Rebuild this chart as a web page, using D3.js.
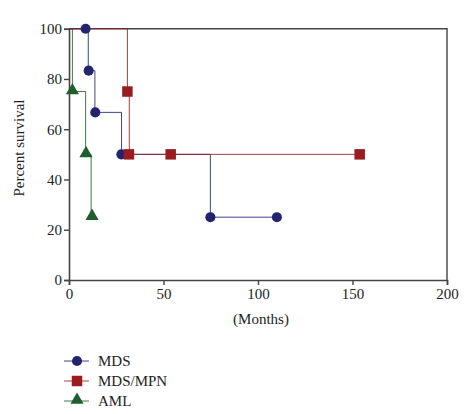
<!DOCTYPE html>
<html><head><meta charset="utf-8">
<script src="https://cdn.jsdelivr.net/npm/d3@7"></script>
<style>body{margin:0;background:#fff}svg{display:block}</style>
</head><body><svg id="c" width="476" height="414"></svg>
<script>
const seriesNames = ["MDS", "MDS/MPN", "AML"];
const seriesColors = ["#222470", "#9a1c20", "#1f5f2e"];
const seriesSymbols = ["circle", "square", "triangle"];
// step curves (months, percent survival)
const mdsSteps = [[0,100],[10.2,100],[10.2,83.3],[13.7,83.3],[13.7,66.7],[27.8,66.7],[27.8,50],[74.8,50],[74.8,25],[110,25]];
const mpnSteps = [[0,100],[30.9,100],[30.9,75],[31.9,75],[31.9,50],[153.8,50]];
const amlSteps = [[0,100],[1.8,100],[1.8,75],[8.8,75],[8.8,50],[11.7,50],[11.7,25]];
// symbol positions
const mdsMarks = [[8.8,100],[10.4,83.3],[13.9,66.7],[27.7,50],[74.8,25],[110,25]];
const mpnMarks = [[30.9,75],[31.7,50],[53.8,50],[153.8,50]];
const amlMarks = [[1.8,75],[9,50],[12.2,25]];
const xTicks = [0,50,100,150,200];
const yTicks = [0,20,40,60,80,100];

const svg = d3.select("#c");
const m = {l:69, r:447, t:28.7, b:280};
const x = d3.scaleLinear().domain([0,200]).range([m.l, m.r]);
const y = d3.scaleLinear().domain([0,100]).range([m.b, m.t]);
const font = "'Liberation Serif', 'Times New Roman', serif";
const fs = 15;

// frame (top & right)
svg.append("path").attr("d", `M${m.l},${m.t}H${m.r}V${m.b}`).attr("fill","none").attr("stroke","#444").attr("stroke-width",1.4);

const xa = svg.append("g").attr("transform",`translate(0,${m.b})`).call(d3.axisBottom(x).tickValues(xTicks).tickSize(5).tickPadding(3));
const ya = svg.append("g").attr("transform",`translate(${m.l},0)`).call(d3.axisLeft(y).tickValues(yTicks).tickSize(5).tickPadding(2));
[xa,ya].forEach(a=>{
  a.select(".domain").attr("stroke","#444").attr("stroke-width",1.6);
  a.selectAll(".tick line").attr("stroke","#444").attr("stroke-width",1.4);
  a.selectAll("text").attr("font-family",font).attr("font-size",fs).attr("fill","#222");
});

svg.append("text").attr("x",261).attr("y",324).attr("text-anchor","middle").attr("font-family",font).attr("font-size",fs).attr("fill","#222").text("(Months)");
svg.append("text").attr("transform","translate(24,148) rotate(-90)").attr("text-anchor","middle").attr("font-family",font).attr("font-size",fs).attr("fill","#222").text("Percent survival");

const steps = [mdsSteps, mpnSteps, amlSteps];
const marks = [mdsMarks, mpnMarks, amlMarks];
const line = d3.line().x(d=>x(d[0])).y(d=>y(d[1]));
const symType = {circle:d3.symbolCircle, square:d3.symbolSquare, triangle:d3.symbolTriangle};
const symSize = {circle:80, square:110, triangle:75};

// draw order: AML, MDS, MPN
[2,0,1].forEach(i=>{
  svg.append("path").datum(steps[i]).attr("d",line).attr("fill","none").attr("stroke",seriesColors[i]).attr("stroke-width",1).attr("stroke-opacity",0.85);
});
[2,0,1].forEach(i=>{
  svg.selectAll(null).data(marks[i]).enter().append("path")
    .attr("d", d3.symbol().type(symType[seriesSymbols[i]]).size(symSize[seriesSymbols[i]]))
    .attr("transform", d=>`translate(${x(d[0])},${y(d[1]) + (seriesSymbols[i]==="triangle"?-1:0)})`)
    .attr("fill", seriesColors[i]);
});

// legend
const lg = svg.append("g");
seriesNames.forEach((n,i)=>{
  const yy = 361 + i*20;
  lg.append("line").attr("x1",64).attr("x2",89).attr("y1",yy).attr("y2",yy).attr("stroke",seriesColors[i]).attr("stroke-width",1).attr("stroke-opacity",0.85);
  lg.append("path").attr("d", d3.symbol().type(symType[seriesSymbols[i]]).size(symSize[seriesSymbols[i]]))
    .attr("transform",`translate(77,${yy + (seriesSymbols[i]==="triangle"?-1:0)})`).attr("fill",seriesColors[i]);
  lg.append("text").attr("x",98).attr("y",yy+5).attr("font-family",font).attr("font-size",fs).attr("fill","#222").text(n);
});
</script></body></html>
